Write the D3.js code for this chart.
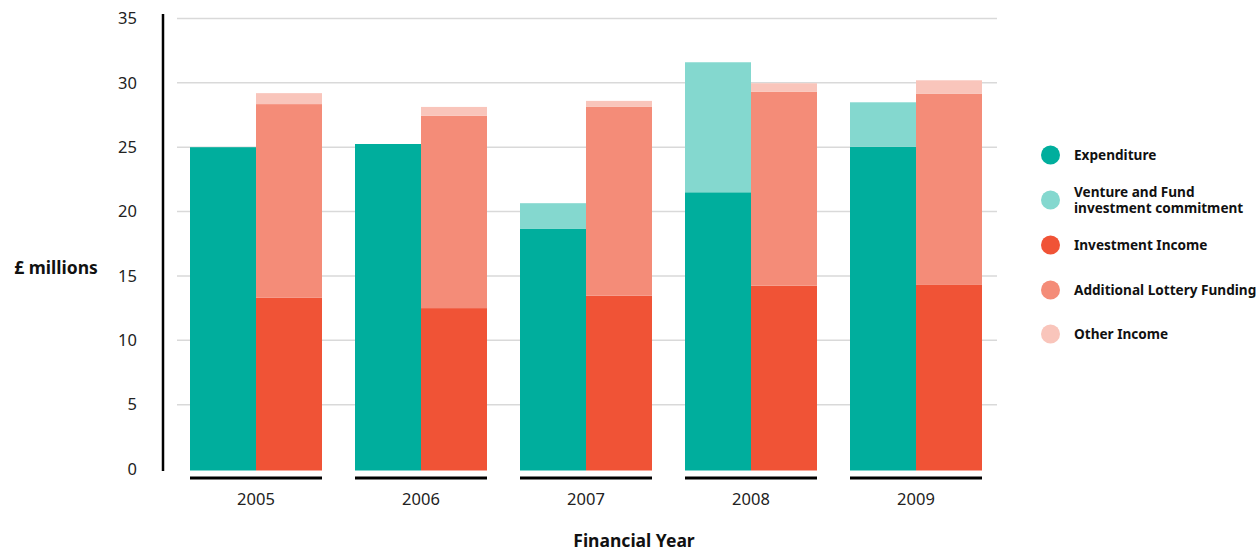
<!DOCTYPE html>
<html><head><meta charset="utf-8">
<script src="https://cdn.jsdelivr.net/npm/d3@7"></script>
<style>body{margin:0;background:#fff}svg{display:block}text{font-family:"Noto Sans","Open Sans",sans-serif}</style>
</head><body><svg id="c" width="1259" height="554"></svg>
<script>
const years = ["2005","2006","2007","2008","2009"];
const expenditure = [25.0, 25.25, 18.65, 21.5, 25.04];
const ventureCommitment = [0, 0, 2.0, 10.1, 3.45];
const investmentIncome = [13.3, 12.5, 13.47, 14.24, 14.3];
const lotteryFunding = [15.05, 14.95, 14.66, 15.08, 14.84];
const otherIncome = [0.85, 0.68, 0.47, 0.65, 1.06];
const yTicks = [0,5,10,15,20,25,30,35];
const legendLabels = [["Expenditure"],["Venture and Fund","investment commitment"],["Investment Income"],["Additional Lottery Funding"],["Other Income"]];
const colors = ["#00ae9d","#84d8cf","#f05336","#f48c78","#f9c5bb"];

const svg = d3.select("#c");
const y = d3.scaleLinear().domain([0,35]).range([469,18.5]);
const x = d3.scaleBand().domain(years).range([173.5,998.5]).paddingInner(0.2).paddingOuter(0.1);
const sub = d3.scaleBand().domain(["L","R"]).range([0,x.bandwidth()]);

// gridlines
svg.append("g").selectAll("line").data(yTicks.filter(d=>d>0)).join("line")
  .attr("x1",177).attr("x2",997).attr("y1",d=>y(d)).attr("y2",d=>y(d))
  .attr("stroke","#d9d9d9").attr("stroke-width",1.5);

// y tick labels
svg.append("g").selectAll("text").data(yTicks).join("text")
  .attr("x",137).attr("y",d=>y(d)).attr("dy","0.35em").attr("text-anchor","end")
  .attr("font-size",16.5).attr("fill","#222").text(d=>d);

// y axis line
svg.append("line").attr("x1",163).attr("x2",163).attr("y1",14).attr("y2",471)
  .attr("stroke","#000").attr("stroke-width",2.5);

// bars
const left = [expenditure, ventureCommitment];
const right = [investmentIncome, lotteryFunding, otherIncome];
const g = svg.append("g");
years.forEach((yr,i)=>{
  let base = 0;
  left.forEach((s,k)=>{
    const v = s[i];
    if(v>0){
      g.append("rect").attr("x",x(yr)+sub("L")).attr("width",sub.bandwidth())
        .attr("y",y(base+v)).attr("height",(base===0?y(0)+1.5:y(base))-y(base+v))
        .attr("fill",colors[k]);
    }
    base += v;
  });
  base = 0;
  right.forEach((s,k)=>{
    const v = s[i];
    g.append("rect").attr("x",x(yr)+sub("R")).attr("width",sub.bandwidth())
      .attr("y",y(base+v)).attr("height",(base===0?y(0)+1.5:y(base))-y(base+v))
      .attr("fill",colors[k+2]);
    base += v;
  });
});

// x underline and labels
svg.append("g").selectAll("line").data(years).join("line")
  .attr("x1",d=>x(d)).attr("x2",d=>x(d)+x.bandwidth()).attr("y1",478).attr("y2",478)
  .attr("stroke","#000").attr("stroke-width",3);
svg.append("g").selectAll("text").data(years).join("text")
  .attr("x",d=>x(d)+x.bandwidth()/2).attr("y",499).attr("dy","0.35em").attr("text-anchor","middle")
  .attr("font-size",16.5).attr("fill","#222").text(d=>d);

// axis titles
svg.append("text").attr("x",56).attr("y",268).attr("dy","0.35em").attr("text-anchor","middle")
  .attr("font-size",17.5).attr("font-weight",700).attr("fill","#111").text("£ millions");
svg.append("text").attr("x",634).attr("y",541).attr("dy","0.35em").attr("text-anchor","middle")
  .attr("font-size",17.5).attr("font-weight",700).attr("fill","#111").text("Financial Year");

// legend
const ly = [155,200,245,290,334];
const lg = svg.append("g");
legendLabels.forEach((lab,i)=>{
  lg.append("circle").attr("cx",1050.5).attr("cy",ly[i]).attr("r",9.5).attr("fill",colors[i]);
  const y0 = ly[i] - (lab.length-1)*8.25;
  lab.forEach((line,j)=>{
    lg.append("text").attr("x",1074).attr("y",y0+j*16.5).attr("dy","0.35em")
      .attr("font-size",13.6).attr("font-weight",700).attr("fill","#111").text(line);
  });
});
</script></body></html>
